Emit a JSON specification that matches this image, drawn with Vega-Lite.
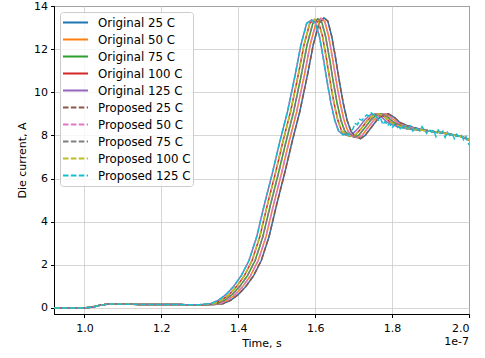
{
"$schema": "https://vega.github.io/schema/vega-lite/v6.json",
"autosize": "none",
"width": 415,
"height": 308,
"padding": {"left": 54, "top": 6, "right": 16, "bottom": 44},
"background": "white",
"title": {"text": "1e-7", "orient": "bottom", "anchor": "end", "frame": "group", "fontSize": 11, "fontWeight": "normal", "font": "DejaVu Sans", "color": "black", "offset": -13},
"config": {
  "view": {"stroke": "black", "strokeWidth": 1},
  "axis": {"labelFont": "DejaVu Sans", "titleFont": "DejaVu Sans", "labelFontSize": 11, "titleFontSize": 11, "titleFontWeight": "normal", "labelColor": "black", "titleColor": "black", "domainColor": "black", "tickColor": "black", "tickSize": 3.5, "labelPadding": 3, "gridColor": "#cccccc", "gridWidth": 0.8},
  "legend": {"labelFont": "DejaVu Sans", "labelFontSize": 11.8, "labelColor": "black"}
},
"data": {"values": [
{"s":"Original 25 C","t":0.921,"v":0},{"s":"Original 25 C","t":0.96,"v":0},{"s":"Original 25 C","t":1.0,"v":0},{"s":"Original 25 C","t":1.02,"v":0.04},{"s":"Original 25 C","t":1.04,"v":0.12},{"s":"Original 25 C","t":1.06,"v":0.18},{"s":"Original 25 C","t":1.08,"v":0.18},{"s":"Original 25 C","t":1.10,"v":0.17},{"s":"Original 25 C","t":1.15,"v":0.165},{"s":"Original 25 C","t":1.20,"v":0.16},{"s":"Original 25 C","t":1.25,"v":0.155},
{"s":"Original 25 C","t":1.33,"v":0.15},{"s":"Original 25 C","t":1.36,"v":0.2},{"s":"Original 25 C","t":1.38,"v":0.35},{"s":"Original 25 C","t":1.40,"v":0.62},{"s":"Original 25 C","t":1.42,"v":1.0},{"s":"Original 25 C","t":1.44,"v":1.5},{"s":"Original 25 C","t":1.46,"v":2.2},{"s":"Original 25 C","t":1.48,"v":3.3},{"s":"Original 25 C","t":1.50,"v":4.8},{"s":"Original 25 C","t":1.52,"v":6.2},{"s":"Original 25 C","t":1.54,"v":7.7},{"s":"Original 25 C","t":1.56,"v":9.1},{"s":"Original 25 C","t":1.58,"v":10.8},{"s":"Original 25 C","t":1.595,"v":12.2},{"s":"Original 25 C","t":1.61,"v":13.2},{"s":"Original 25 C","t":1.623,"v":13.45},{"s":"Original 25 C","t":1.633,"v":13.3},{"s":"Original 25 C","t":1.643,"v":12.6},{"s":"Original 25 C","t":1.653,"v":11.6},{"s":"Original 25 C","t":1.663,"v":10.5},{"s":"Original 25 C","t":1.673,"v":9.5},{"s":"Original 25 C","t":1.683,"v":8.7},{"s":"Original 25 C","t":1.693,"v":8.2},{"s":"Original 25 C","t":1.705,"v":7.95},{"s":"Original 25 C","t":1.718,"v":7.85},{"s":"Original 25 C","t":1.73,"v":8.0},{"s":"Original 25 C","t":1.745,"v":8.35},{"s":"Original 25 C","t":1.76,"v":8.7},{"s":"Original 25 C","t":1.775,"v":8.95},{"s":"Original 25 C","t":1.79,"v":9.0},{"s":"Original 25 C","t":1.805,"v":8.85},{"s":"Original 25 C","t":1.82,"v":8.6},{"s":"Original 25 C","t":1.84,"v":8.45},{"s":"Original 25 C","t":1.87,"v":8.3},
{"s":"Original 25 C","t":1.90,"v":8.2},{"s":"Original 25 C","t":1.93,"v":8.12},{"s":"Original 25 C","t":1.96,"v":8.02},{"s":"Original 25 C","t":1.98,"v":7.95},{"s":"Original 25 C","t":2.0,"v":7.8},

{"s":"Original 50 C","t":0.921,"v":0},{"s":"Original 50 C","t":0.96,"v":0},{"s":"Original 50 C","t":1.0,"v":0},{"s":"Original 50 C","t":1.02,"v":0.04},{"s":"Original 50 C","t":1.04,"v":0.12},{"s":"Original 50 C","t":1.06,"v":0.18},{"s":"Original 50 C","t":1.08,"v":0.18},{"s":"Original 50 C","t":1.10,"v":0.17},{"s":"Original 50 C","t":1.15,"v":0.165},{"s":"Original 50 C","t":1.20,"v":0.16},{"s":"Original 50 C","t":1.25,"v":0.155},
{"s":"Original 50 C","t":1.322,"v":0.15},{"s":"Original 50 C","t":1.352,"v":0.2},{"s":"Original 50 C","t":1.372,"v":0.35},{"s":"Original 50 C","t":1.392,"v":0.62},{"s":"Original 50 C","t":1.412,"v":1.0},{"s":"Original 50 C","t":1.432,"v":1.5},{"s":"Original 50 C","t":1.452,"v":2.2},{"s":"Original 50 C","t":1.472,"v":3.3},{"s":"Original 50 C","t":1.492,"v":4.8},{"s":"Original 50 C","t":1.512,"v":6.2},{"s":"Original 50 C","t":1.532,"v":7.7},{"s":"Original 50 C","t":1.552,"v":9.1},{"s":"Original 50 C","t":1.572,"v":10.8},{"s":"Original 50 C","t":1.587,"v":12.2},{"s":"Original 50 C","t":1.602,"v":13.2},{"s":"Original 50 C","t":1.615,"v":13.43},{"s":"Original 50 C","t":1.625,"v":13.28},{"s":"Original 50 C","t":1.635,"v":12.6},{"s":"Original 50 C","t":1.645,"v":11.6},{"s":"Original 50 C","t":1.655,"v":10.5},{"s":"Original 50 C","t":1.665,"v":9.5},{"s":"Original 50 C","t":1.675,"v":8.7},{"s":"Original 50 C","t":1.685,"v":8.2},{"s":"Original 50 C","t":1.697,"v":7.97},{"s":"Original 50 C","t":1.710,"v":7.89},{"s":"Original 50 C","t":1.722,"v":8.0},{"s":"Original 50 C","t":1.737,"v":8.35},{"s":"Original 50 C","t":1.752,"v":8.7},{"s":"Original 50 C","t":1.767,"v":8.95},{"s":"Original 50 C","t":1.782,"v":9.0},{"s":"Original 50 C","t":1.797,"v":8.85},{"s":"Original 50 C","t":1.812,"v":8.6},{"s":"Original 50 C","t":1.832,"v":8.45},{"s":"Original 50 C","t":1.862,"v":8.3},
{"s":"Original 50 C","t":1.90,"v":8.2},{"s":"Original 50 C","t":1.93,"v":8.12},{"s":"Original 50 C","t":1.96,"v":8.02},{"s":"Original 50 C","t":1.98,"v":7.95},{"s":"Original 50 C","t":2.0,"v":7.8},

{"s":"Original 75 C","t":0.921,"v":0},{"s":"Original 75 C","t":0.96,"v":0},{"s":"Original 75 C","t":1.0,"v":0},{"s":"Original 75 C","t":1.02,"v":0.04},{"s":"Original 75 C","t":1.04,"v":0.12},{"s":"Original 75 C","t":1.06,"v":0.18},{"s":"Original 75 C","t":1.08,"v":0.18},{"s":"Original 75 C","t":1.10,"v":0.17},{"s":"Original 75 C","t":1.15,"v":0.165},{"s":"Original 75 C","t":1.20,"v":0.16},{"s":"Original 75 C","t":1.25,"v":0.155},
{"s":"Original 75 C","t":1.314,"v":0.15},{"s":"Original 75 C","t":1.344,"v":0.2},{"s":"Original 75 C","t":1.364,"v":0.35},{"s":"Original 75 C","t":1.384,"v":0.62},{"s":"Original 75 C","t":1.404,"v":1.0},{"s":"Original 75 C","t":1.424,"v":1.5},{"s":"Original 75 C","t":1.444,"v":2.2},{"s":"Original 75 C","t":1.464,"v":3.3},{"s":"Original 75 C","t":1.484,"v":4.8},{"s":"Original 75 C","t":1.504,"v":6.2},{"s":"Original 75 C","t":1.524,"v":7.7},{"s":"Original 75 C","t":1.544,"v":9.1},{"s":"Original 75 C","t":1.564,"v":10.8},{"s":"Original 75 C","t":1.579,"v":12.2},{"s":"Original 75 C","t":1.594,"v":13.2},{"s":"Original 75 C","t":1.607,"v":13.41},{"s":"Original 75 C","t":1.617,"v":13.26},{"s":"Original 75 C","t":1.627,"v":12.6},{"s":"Original 75 C","t":1.637,"v":11.6},{"s":"Original 75 C","t":1.647,"v":10.5},{"s":"Original 75 C","t":1.657,"v":9.5},{"s":"Original 75 C","t":1.667,"v":8.7},{"s":"Original 75 C","t":1.677,"v":8.2},{"s":"Original 75 C","t":1.689,"v":8.0},{"s":"Original 75 C","t":1.702,"v":7.92},{"s":"Original 75 C","t":1.714,"v":8.02},{"s":"Original 75 C","t":1.729,"v":8.35},{"s":"Original 75 C","t":1.744,"v":8.7},{"s":"Original 75 C","t":1.759,"v":8.95},{"s":"Original 75 C","t":1.774,"v":9.0},{"s":"Original 75 C","t":1.789,"v":8.85},{"s":"Original 75 C","t":1.804,"v":8.6},{"s":"Original 75 C","t":1.824,"v":8.45},{"s":"Original 75 C","t":1.854,"v":8.3},
{"s":"Original 75 C","t":1.90,"v":8.2},{"s":"Original 75 C","t":1.93,"v":8.12},{"s":"Original 75 C","t":1.96,"v":8.02},{"s":"Original 75 C","t":1.98,"v":7.95},{"s":"Original 75 C","t":2.0,"v":7.8},

{"s":"Original 100 C","t":0.921,"v":0},{"s":"Original 100 C","t":0.96,"v":0},{"s":"Original 100 C","t":1.0,"v":0},{"s":"Original 100 C","t":1.02,"v":0.04},{"s":"Original 100 C","t":1.04,"v":0.12},{"s":"Original 100 C","t":1.06,"v":0.18},{"s":"Original 100 C","t":1.08,"v":0.18},{"s":"Original 100 C","t":1.10,"v":0.17},{"s":"Original 100 C","t":1.15,"v":0.165},{"s":"Original 100 C","t":1.20,"v":0.16},{"s":"Original 100 C","t":1.25,"v":0.155},
{"s":"Original 100 C","t":1.306,"v":0.15},{"s":"Original 100 C","t":1.336,"v":0.2},{"s":"Original 100 C","t":1.356,"v":0.35},{"s":"Original 100 C","t":1.376,"v":0.62},{"s":"Original 100 C","t":1.396,"v":1.0},{"s":"Original 100 C","t":1.416,"v":1.5},{"s":"Original 100 C","t":1.436,"v":2.2},{"s":"Original 100 C","t":1.456,"v":3.3},{"s":"Original 100 C","t":1.476,"v":4.8},{"s":"Original 100 C","t":1.496,"v":6.2},{"s":"Original 100 C","t":1.516,"v":7.7},{"s":"Original 100 C","t":1.536,"v":9.1},{"s":"Original 100 C","t":1.556,"v":10.8},{"s":"Original 100 C","t":1.571,"v":12.2},{"s":"Original 100 C","t":1.586,"v":13.2},{"s":"Original 100 C","t":1.599,"v":13.38},{"s":"Original 100 C","t":1.609,"v":13.23},{"s":"Original 100 C","t":1.619,"v":12.6},{"s":"Original 100 C","t":1.629,"v":11.6},{"s":"Original 100 C","t":1.639,"v":10.5},{"s":"Original 100 C","t":1.649,"v":9.5},{"s":"Original 100 C","t":1.659,"v":8.7},{"s":"Original 100 C","t":1.669,"v":8.2},{"s":"Original 100 C","t":1.681,"v":8.02},{"s":"Original 100 C","t":1.694,"v":7.96},{"s":"Original 100 C","t":1.706,"v":8.05},{"s":"Original 100 C","t":1.721,"v":8.35},{"s":"Original 100 C","t":1.736,"v":8.7},{"s":"Original 100 C","t":1.751,"v":8.95},{"s":"Original 100 C","t":1.766,"v":9.0},{"s":"Original 100 C","t":1.781,"v":8.85},{"s":"Original 100 C","t":1.796,"v":8.6},{"s":"Original 100 C","t":1.816,"v":8.45},{"s":"Original 100 C","t":1.846,"v":8.3},
{"s":"Original 100 C","t":1.90,"v":8.2},{"s":"Original 100 C","t":1.93,"v":8.12},{"s":"Original 100 C","t":1.96,"v":8.02},{"s":"Original 100 C","t":1.98,"v":7.95},{"s":"Original 100 C","t":2.0,"v":7.8},

{"s":"Original 125 C","t":0.921,"v":0},{"s":"Original 125 C","t":0.96,"v":0},{"s":"Original 125 C","t":1.0,"v":0},{"s":"Original 125 C","t":1.02,"v":0.04},{"s":"Original 125 C","t":1.04,"v":0.12},{"s":"Original 125 C","t":1.06,"v":0.18},{"s":"Original 125 C","t":1.08,"v":0.18},{"s":"Original 125 C","t":1.10,"v":0.17},{"s":"Original 125 C","t":1.15,"v":0.165},{"s":"Original 125 C","t":1.20,"v":0.16},{"s":"Original 125 C","t":1.25,"v":0.155},
{"s":"Original 125 C","t":1.298,"v":0.15},{"s":"Original 125 C","t":1.328,"v":0.2},{"s":"Original 125 C","t":1.348,"v":0.35},{"s":"Original 125 C","t":1.368,"v":0.62},{"s":"Original 125 C","t":1.388,"v":1.0},{"s":"Original 125 C","t":1.408,"v":1.5},{"s":"Original 125 C","t":1.428,"v":2.2},{"s":"Original 125 C","t":1.448,"v":3.3},{"s":"Original 125 C","t":1.468,"v":4.8},{"s":"Original 125 C","t":1.488,"v":6.2},{"s":"Original 125 C","t":1.508,"v":7.7},{"s":"Original 125 C","t":1.528,"v":9.1},{"s":"Original 125 C","t":1.548,"v":10.8},{"s":"Original 125 C","t":1.563,"v":12.2},{"s":"Original 125 C","t":1.578,"v":13.2},{"s":"Original 125 C","t":1.591,"v":13.35},{"s":"Original 125 C","t":1.601,"v":13.2},{"s":"Original 125 C","t":1.611,"v":12.6},{"s":"Original 125 C","t":1.621,"v":11.6},{"s":"Original 125 C","t":1.631,"v":10.5},{"s":"Original 125 C","t":1.641,"v":9.5},{"s":"Original 125 C","t":1.651,"v":8.7},{"s":"Original 125 C","t":1.661,"v":8.2},{"s":"Original 125 C","t":1.673,"v":8.05},{"s":"Original 125 C","t":1.686,"v":8.0},{"s":"Original 125 C","t":1.698,"v":8.08},{"s":"Original 125 C","t":1.713,"v":8.35},{"s":"Original 125 C","t":1.728,"v":8.7},{"s":"Original 125 C","t":1.743,"v":8.95},{"s":"Original 125 C","t":1.758,"v":9.0},{"s":"Original 125 C","t":1.773,"v":8.85},{"s":"Original 125 C","t":1.788,"v":8.6},{"s":"Original 125 C","t":1.808,"v":8.45},{"s":"Original 125 C","t":1.838,"v":8.3},
{"s":"Original 125 C","t":1.90,"v":8.2},{"s":"Original 125 C","t":1.93,"v":8.12},{"s":"Original 125 C","t":1.96,"v":8.02},{"s":"Original 125 C","t":1.98,"v":7.95},{"s":"Original 125 C","t":2.0,"v":7.8},

{"s":"Proposed 25 C","t":0.921,"v":0},{"s":"Proposed 25 C","t":0.96,"v":0},{"s":"Proposed 25 C","t":1.0,"v":0},{"s":"Proposed 25 C","t":1.02,"v":0.04},{"s":"Proposed 25 C","t":1.04,"v":0.12},{"s":"Proposed 25 C","t":1.06,"v":0.18},{"s":"Proposed 25 C","t":1.08,"v":0.18},{"s":"Proposed 25 C","t":1.10,"v":0.17},{"s":"Proposed 25 C","t":1.15,"v":0.165},{"s":"Proposed 25 C","t":1.20,"v":0.16},{"s":"Proposed 25 C","t":1.25,"v":0.155},
{"s":"Proposed 25 C","t":1.33,"v":0.15},{"s":"Proposed 25 C","t":1.36,"v":0.2},{"s":"Proposed 25 C","t":1.38,"v":0.35},{"s":"Proposed 25 C","t":1.40,"v":0.62},{"s":"Proposed 25 C","t":1.42,"v":1.0},{"s":"Proposed 25 C","t":1.44,"v":1.5},{"s":"Proposed 25 C","t":1.46,"v":2.2},{"s":"Proposed 25 C","t":1.48,"v":3.3},{"s":"Proposed 25 C","t":1.50,"v":4.8},{"s":"Proposed 25 C","t":1.52,"v":6.2},{"s":"Proposed 25 C","t":1.54,"v":7.7},{"s":"Proposed 25 C","t":1.56,"v":9.1},{"s":"Proposed 25 C","t":1.58,"v":10.8},{"s":"Proposed 25 C","t":1.595,"v":12.2},{"s":"Proposed 25 C","t":1.61,"v":13.2},{"s":"Proposed 25 C","t":1.623,"v":13.45},{"s":"Proposed 25 C","t":1.633,"v":13.3},{"s":"Proposed 25 C","t":1.643,"v":12.6},{"s":"Proposed 25 C","t":1.653,"v":11.6},{"s":"Proposed 25 C","t":1.663,"v":10.5},{"s":"Proposed 25 C","t":1.673,"v":9.5},{"s":"Proposed 25 C","t":1.683,"v":8.7},{"s":"Proposed 25 C","t":1.693,"v":8.2},{"s":"Proposed 25 C","t":1.705,"v":7.95},{"s":"Proposed 25 C","t":1.718,"v":7.85},{"s":"Proposed 25 C","t":1.73,"v":8.0},{"s":"Proposed 25 C","t":1.745,"v":8.35},{"s":"Proposed 25 C","t":1.76,"v":8.7},{"s":"Proposed 25 C","t":1.775,"v":8.95},{"s":"Proposed 25 C","t":1.79,"v":9.0},{"s":"Proposed 25 C","t":1.805,"v":8.85},{"s":"Proposed 25 C","t":1.82,"v":8.6},{"s":"Proposed 25 C","t":1.84,"v":8.45},{"s":"Proposed 25 C","t":1.87,"v":8.3},
{"s":"Proposed 25 C","t":1.90,"v":8.2},{"s":"Proposed 25 C","t":1.93,"v":8.12},{"s":"Proposed 25 C","t":1.96,"v":8.02},{"s":"Proposed 25 C","t":1.98,"v":7.95},{"s":"Proposed 25 C","t":2.0,"v":7.8},

{"s":"Proposed 50 C","t":0.921,"v":0},{"s":"Proposed 50 C","t":0.96,"v":0},{"s":"Proposed 50 C","t":1.0,"v":0},{"s":"Proposed 50 C","t":1.02,"v":0.04},{"s":"Proposed 50 C","t":1.04,"v":0.12},{"s":"Proposed 50 C","t":1.06,"v":0.18},{"s":"Proposed 50 C","t":1.08,"v":0.18},{"s":"Proposed 50 C","t":1.10,"v":0.17},{"s":"Proposed 50 C","t":1.15,"v":0.165},{"s":"Proposed 50 C","t":1.20,"v":0.16},{"s":"Proposed 50 C","t":1.25,"v":0.155},
{"s":"Proposed 50 C","t":1.322,"v":0.15},{"s":"Proposed 50 C","t":1.352,"v":0.2},{"s":"Proposed 50 C","t":1.372,"v":0.35},{"s":"Proposed 50 C","t":1.392,"v":0.62},{"s":"Proposed 50 C","t":1.412,"v":1.0},{"s":"Proposed 50 C","t":1.432,"v":1.5},{"s":"Proposed 50 C","t":1.452,"v":2.2},{"s":"Proposed 50 C","t":1.472,"v":3.3},{"s":"Proposed 50 C","t":1.492,"v":4.8},{"s":"Proposed 50 C","t":1.512,"v":6.2},{"s":"Proposed 50 C","t":1.532,"v":7.7},{"s":"Proposed 50 C","t":1.552,"v":9.1},{"s":"Proposed 50 C","t":1.572,"v":10.8},{"s":"Proposed 50 C","t":1.587,"v":12.2},{"s":"Proposed 50 C","t":1.602,"v":13.2},{"s":"Proposed 50 C","t":1.615,"v":13.43},{"s":"Proposed 50 C","t":1.625,"v":13.28},{"s":"Proposed 50 C","t":1.635,"v":12.6},{"s":"Proposed 50 C","t":1.645,"v":11.6},{"s":"Proposed 50 C","t":1.655,"v":10.5},{"s":"Proposed 50 C","t":1.665,"v":9.5},{"s":"Proposed 50 C","t":1.675,"v":8.7},{"s":"Proposed 50 C","t":1.685,"v":8.2},{"s":"Proposed 50 C","t":1.697,"v":7.97},{"s":"Proposed 50 C","t":1.710,"v":7.89},{"s":"Proposed 50 C","t":1.722,"v":8.0},{"s":"Proposed 50 C","t":1.737,"v":8.35},{"s":"Proposed 50 C","t":1.752,"v":8.7},{"s":"Proposed 50 C","t":1.767,"v":8.95},{"s":"Proposed 50 C","t":1.782,"v":9.0},{"s":"Proposed 50 C","t":1.797,"v":8.85},{"s":"Proposed 50 C","t":1.812,"v":8.6},{"s":"Proposed 50 C","t":1.832,"v":8.45},{"s":"Proposed 50 C","t":1.862,"v":8.3},
{"s":"Proposed 50 C","t":1.90,"v":8.2},{"s":"Proposed 50 C","t":1.93,"v":8.12},{"s":"Proposed 50 C","t":1.96,"v":8.02},{"s":"Proposed 50 C","t":1.98,"v":7.95},{"s":"Proposed 50 C","t":2.0,"v":7.8},

{"s":"Proposed 75 C","t":0.921,"v":0},{"s":"Proposed 75 C","t":0.96,"v":0},{"s":"Proposed 75 C","t":1.0,"v":0},{"s":"Proposed 75 C","t":1.02,"v":0.04},{"s":"Proposed 75 C","t":1.04,"v":0.12},{"s":"Proposed 75 C","t":1.06,"v":0.18},{"s":"Proposed 75 C","t":1.08,"v":0.18},{"s":"Proposed 75 C","t":1.10,"v":0.17},{"s":"Proposed 75 C","t":1.15,"v":0.165},{"s":"Proposed 75 C","t":1.20,"v":0.16},{"s":"Proposed 75 C","t":1.25,"v":0.155},
{"s":"Proposed 75 C","t":1.314,"v":0.15},{"s":"Proposed 75 C","t":1.344,"v":0.2},{"s":"Proposed 75 C","t":1.364,"v":0.35},{"s":"Proposed 75 C","t":1.384,"v":0.62},{"s":"Proposed 75 C","t":1.404,"v":1.0},{"s":"Proposed 75 C","t":1.424,"v":1.5},{"s":"Proposed 75 C","t":1.444,"v":2.2},{"s":"Proposed 75 C","t":1.464,"v":3.3},{"s":"Proposed 75 C","t":1.484,"v":4.8},{"s":"Proposed 75 C","t":1.504,"v":6.2},{"s":"Proposed 75 C","t":1.524,"v":7.7},{"s":"Proposed 75 C","t":1.544,"v":9.1},{"s":"Proposed 75 C","t":1.564,"v":10.8},{"s":"Proposed 75 C","t":1.579,"v":12.2},{"s":"Proposed 75 C","t":1.594,"v":13.2},{"s":"Proposed 75 C","t":1.607,"v":13.41},{"s":"Proposed 75 C","t":1.617,"v":13.26},{"s":"Proposed 75 C","t":1.627,"v":12.6},{"s":"Proposed 75 C","t":1.637,"v":11.6},{"s":"Proposed 75 C","t":1.647,"v":10.5},{"s":"Proposed 75 C","t":1.657,"v":9.5},{"s":"Proposed 75 C","t":1.667,"v":8.7},{"s":"Proposed 75 C","t":1.677,"v":8.2},{"s":"Proposed 75 C","t":1.689,"v":8.0},{"s":"Proposed 75 C","t":1.702,"v":7.92},{"s":"Proposed 75 C","t":1.714,"v":8.02},{"s":"Proposed 75 C","t":1.729,"v":8.35},{"s":"Proposed 75 C","t":1.744,"v":8.7},{"s":"Proposed 75 C","t":1.759,"v":8.95},{"s":"Proposed 75 C","t":1.774,"v":9.0},{"s":"Proposed 75 C","t":1.789,"v":8.85},{"s":"Proposed 75 C","t":1.804,"v":8.6},{"s":"Proposed 75 C","t":1.824,"v":8.45},{"s":"Proposed 75 C","t":1.854,"v":8.3},
{"s":"Proposed 75 C","t":1.90,"v":8.2},{"s":"Proposed 75 C","t":1.93,"v":8.12},{"s":"Proposed 75 C","t":1.96,"v":8.02},{"s":"Proposed 75 C","t":1.98,"v":7.95},{"s":"Proposed 75 C","t":2.0,"v":7.8},

{"s":"Proposed 100 C","t":0.921,"v":0},{"s":"Proposed 100 C","t":0.96,"v":0},{"s":"Proposed 100 C","t":1.0,"v":0},{"s":"Proposed 100 C","t":1.02,"v":0.04},{"s":"Proposed 100 C","t":1.04,"v":0.12},{"s":"Proposed 100 C","t":1.06,"v":0.18},{"s":"Proposed 100 C","t":1.08,"v":0.18},{"s":"Proposed 100 C","t":1.10,"v":0.17},{"s":"Proposed 100 C","t":1.15,"v":0.165},{"s":"Proposed 100 C","t":1.20,"v":0.16},{"s":"Proposed 100 C","t":1.25,"v":0.155},
{"s":"Proposed 100 C","t":1.306,"v":0.15},{"s":"Proposed 100 C","t":1.336,"v":0.2},{"s":"Proposed 100 C","t":1.356,"v":0.35},{"s":"Proposed 100 C","t":1.376,"v":0.62},{"s":"Proposed 100 C","t":1.396,"v":1.0},{"s":"Proposed 100 C","t":1.416,"v":1.5},{"s":"Proposed 100 C","t":1.436,"v":2.2},{"s":"Proposed 100 C","t":1.456,"v":3.3},{"s":"Proposed 100 C","t":1.476,"v":4.8},{"s":"Proposed 100 C","t":1.496,"v":6.2},{"s":"Proposed 100 C","t":1.516,"v":7.7},{"s":"Proposed 100 C","t":1.536,"v":9.1},{"s":"Proposed 100 C","t":1.556,"v":10.8},{"s":"Proposed 100 C","t":1.571,"v":12.2},{"s":"Proposed 100 C","t":1.586,"v":13.2},{"s":"Proposed 100 C","t":1.599,"v":13.38},{"s":"Proposed 100 C","t":1.609,"v":13.23},{"s":"Proposed 100 C","t":1.619,"v":12.6},{"s":"Proposed 100 C","t":1.629,"v":11.6},{"s":"Proposed 100 C","t":1.639,"v":10.5},{"s":"Proposed 100 C","t":1.649,"v":9.5},{"s":"Proposed 100 C","t":1.659,"v":8.7},{"s":"Proposed 100 C","t":1.669,"v":8.2},{"s":"Proposed 100 C","t":1.681,"v":8.02},{"s":"Proposed 100 C","t":1.694,"v":7.96},{"s":"Proposed 100 C","t":1.706,"v":8.05},{"s":"Proposed 100 C","t":1.721,"v":8.35},{"s":"Proposed 100 C","t":1.736,"v":8.7},{"s":"Proposed 100 C","t":1.751,"v":8.95},{"s":"Proposed 100 C","t":1.766,"v":9.0},{"s":"Proposed 100 C","t":1.781,"v":8.85},{"s":"Proposed 100 C","t":1.796,"v":8.6},{"s":"Proposed 100 C","t":1.816,"v":8.45},{"s":"Proposed 100 C","t":1.846,"v":8.3},
{"s":"Proposed 100 C","t":1.90,"v":8.2},{"s":"Proposed 100 C","t":1.93,"v":8.12},{"s":"Proposed 100 C","t":1.96,"v":8.02},{"s":"Proposed 100 C","t":1.98,"v":7.95},{"s":"Proposed 100 C","t":2.0,"v":7.8},

{"s":"Proposed 125 C","t":0.921,"v":0},{"s":"Proposed 125 C","t":0.96,"v":0},{"s":"Proposed 125 C","t":1.0,"v":0},{"s":"Proposed 125 C","t":1.02,"v":0.04},{"s":"Proposed 125 C","t":1.04,"v":0.12},{"s":"Proposed 125 C","t":1.06,"v":0.18},{"s":"Proposed 125 C","t":1.08,"v":0.18},{"s":"Proposed 125 C","t":1.10,"v":0.17},{"s":"Proposed 125 C","t":1.15,"v":0.165},{"s":"Proposed 125 C","t":1.20,"v":0.16},{"s":"Proposed 125 C","t":1.25,"v":0.155},
{"s":"Proposed 125 C","t":1.298,"v":0.15},{"s":"Proposed 125 C","t":1.328,"v":0.2},{"s":"Proposed 125 C","t":1.348,"v":0.35},{"s":"Proposed 125 C","t":1.368,"v":0.62},{"s":"Proposed 125 C","t":1.388,"v":1.0},{"s":"Proposed 125 C","t":1.408,"v":1.5},{"s":"Proposed 125 C","t":1.428,"v":2.2},{"s":"Proposed 125 C","t":1.448,"v":3.3},{"s":"Proposed 125 C","t":1.468,"v":4.8},{"s":"Proposed 125 C","t":1.488,"v":6.2},{"s":"Proposed 125 C","t":1.508,"v":7.7},{"s":"Proposed 125 C","t":1.528,"v":9.1},{"s":"Proposed 125 C","t":1.548,"v":10.8},{"s":"Proposed 125 C","t":1.563,"v":12.2},{"s":"Proposed 125 C","t":1.578,"v":13.2},{"s":"Proposed 125 C","t":1.591,"v":13.35},{"s":"Proposed 125 C","t":1.601,"v":13.2},{"s":"Proposed 125 C","t":1.611,"v":12.6},{"s":"Proposed 125 C","t":1.621,"v":11.6},{"s":"Proposed 125 C","t":1.631,"v":10.5},{"s":"Proposed 125 C","t":1.641,"v":9.5},{"s":"Proposed 125 C","t":1.651,"v":8.7},{"s":"Proposed 125 C","t":1.661,"v":8.2},
{"s":"Proposed 125 C","t":1.673,"v":8.02},{"s":"Proposed 125 C","t":1.68,"v":8.1},{"s":"Proposed 125 C","t":1.686,"v":8.0},{"s":"Proposed 125 C","t":1.692,"v":8.2},{"s":"Proposed 125 C","t":1.698,"v":8.3},{"s":"Proposed 125 C","t":1.704,"v":8.55},{"s":"Proposed 125 C","t":1.71,"v":8.5},{"s":"Proposed 125 C","t":1.716,"v":8.75},{"s":"Proposed 125 C","t":1.722,"v":8.7},{"s":"Proposed 125 C","t":1.728,"v":8.85},{"s":"Proposed 125 C","t":1.734,"v":8.95},{"s":"Proposed 125 C","t":1.74,"v":8.9},{"s":"Proposed 125 C","t":1.746,"v":9.05},{"s":"Proposed 125 C","t":1.752,"v":8.95},{"s":"Proposed 125 C","t":1.758,"v":8.95},{"s":"Proposed 125 C","t":1.764,"v":8.7},{"s":"Proposed 125 C","t":1.77,"v":8.8},{"s":"Proposed 125 C","t":1.776,"v":8.5},{"s":"Proposed 125 C","t":1.782,"v":8.65},{"s":"Proposed 125 C","t":1.788,"v":8.45},{"s":"Proposed 125 C","t":1.794,"v":8.55},{"s":"Proposed 125 C","t":1.80,"v":8.35},{"s":"Proposed 125 C","t":1.806,"v":8.5},{"s":"Proposed 125 C","t":1.812,"v":8.35},{"s":"Proposed 125 C","t":1.818,"v":8.4},{"s":"Proposed 125 C","t":1.824,"v":8.25},{"s":"Proposed 125 C","t":1.83,"v":8.45},{"s":"Proposed 125 C","t":1.836,"v":8.3},{"s":"Proposed 125 C","t":1.842,"v":8.35},{"s":"Proposed 125 C","t":1.848,"v":8.45},{"s":"Proposed 125 C","t":1.854,"v":8.2},{"s":"Proposed 125 C","t":1.86,"v":8.35},{"s":"Proposed 125 C","t":1.866,"v":8.3},{"s":"Proposed 125 C","t":1.872,"v":8.2},{"s":"Proposed 125 C","t":1.878,"v":8.4},{"s":"Proposed 125 C","t":1.884,"v":8.25},{"s":"Proposed 125 C","t":1.89,"v":8.1},{"s":"Proposed 125 C","t":1.896,"v":8.3},{"s":"Proposed 125 C","t":1.902,"v":8.15},{"s":"Proposed 125 C","t":1.908,"v":8.25},{"s":"Proposed 125 C","t":1.914,"v":7.95},{"s":"Proposed 125 C","t":1.92,"v":8.25},{"s":"Proposed 125 C","t":1.926,"v":8.1},{"s":"Proposed 125 C","t":1.932,"v":8.2},{"s":"Proposed 125 C","t":1.938,"v":7.9},{"s":"Proposed 125 C","t":1.944,"v":8.15},{"s":"Proposed 125 C","t":1.95,"v":8.0},{"s":"Proposed 125 C","t":1.956,"v":8.1},{"s":"Proposed 125 C","t":1.962,"v":7.85},{"s":"Proposed 125 C","t":1.968,"v":8.05},{"s":"Proposed 125 C","t":1.974,"v":7.95},{"s":"Proposed 125 C","t":1.98,"v":8.0},{"s":"Proposed 125 C","t":1.986,"v":7.8},{"s":"Proposed 125 C","t":1.992,"v":7.95},{"s":"Proposed 125 C","t":2.0,"v":7.55}
]},
"mark": {"type": "line", "strokeWidth": 1.5, "clip": true},
"encoding": {
  "x": {"field": "t", "type": "quantitative", "scale": {"domain": [0.921, 2.0], "nice": false, "zero": false},
        "axis": {"title": "Time, s", "values": [1.0, 1.2, 1.4, 1.6, 1.8, 2.0], "format": ".1f", "grid": true, "titlePadding": 4, "labelPadding": 5}},
  "y": {"field": "v", "type": "quantitative", "scale": {"domain": [-0.28, 14], "nice": false, "zero": false},
        "axis": {"title": "Die current, A", "values": [0, 2, 4, 6, 8, 10, 12, 14], "grid": true, "titlePadding": 6}},
  "color": {"field": "s", "type": "nominal",
    "scale": {"domain": ["Original 25 C","Original 50 C","Original 75 C","Original 100 C","Original 125 C","Proposed 25 C","Proposed 50 C","Proposed 75 C","Proposed 100 C","Proposed 125 C"],
              "range": ["#1f77b4","#ff7f0e","#2ca02c","#d62728","#9467bd","#8c564b","#e377c2","#7f7f7f","#bcbd22","#17becf"]},
    "legend": {"title": null, "orient": "top-left", "offset": 6, "fillColor": "rgba(255,255,255,0.8)", "strokeColor": "#cccccc", "cornerRadius": 3, "padding": 2, "symbolType": "stroke", "symbolSize": 625, "symbolStrokeWidth": 2, "labelOffset": 9, "rowPadding": 0, "clipHeight": 17}},
  "strokeDash": {"field": "s", "type": "nominal",
    "scale": {"domain": ["Original 25 C","Original 50 C","Original 75 C","Original 100 C","Original 125 C","Proposed 25 C","Proposed 50 C","Proposed 75 C","Proposed 100 C","Proposed 125 C"],
              "range": [[1,0],[1,0],[1,0],[1,0],[1,0],[5.5,2.4],[5.5,2.4],[5.5,2.4],[5.5,2.4],[5.5,2.4]]},
    "legend": {"title": null, "orient": "top-left", "offset": 6, "fillColor": "rgba(255,255,255,0.8)", "strokeColor": "#cccccc", "cornerRadius": 3, "padding": 2, "symbolType": "stroke", "symbolSize": 625, "symbolStrokeWidth": 2, "labelOffset": 9, "rowPadding": 0, "clipHeight": 17}}
}
}
